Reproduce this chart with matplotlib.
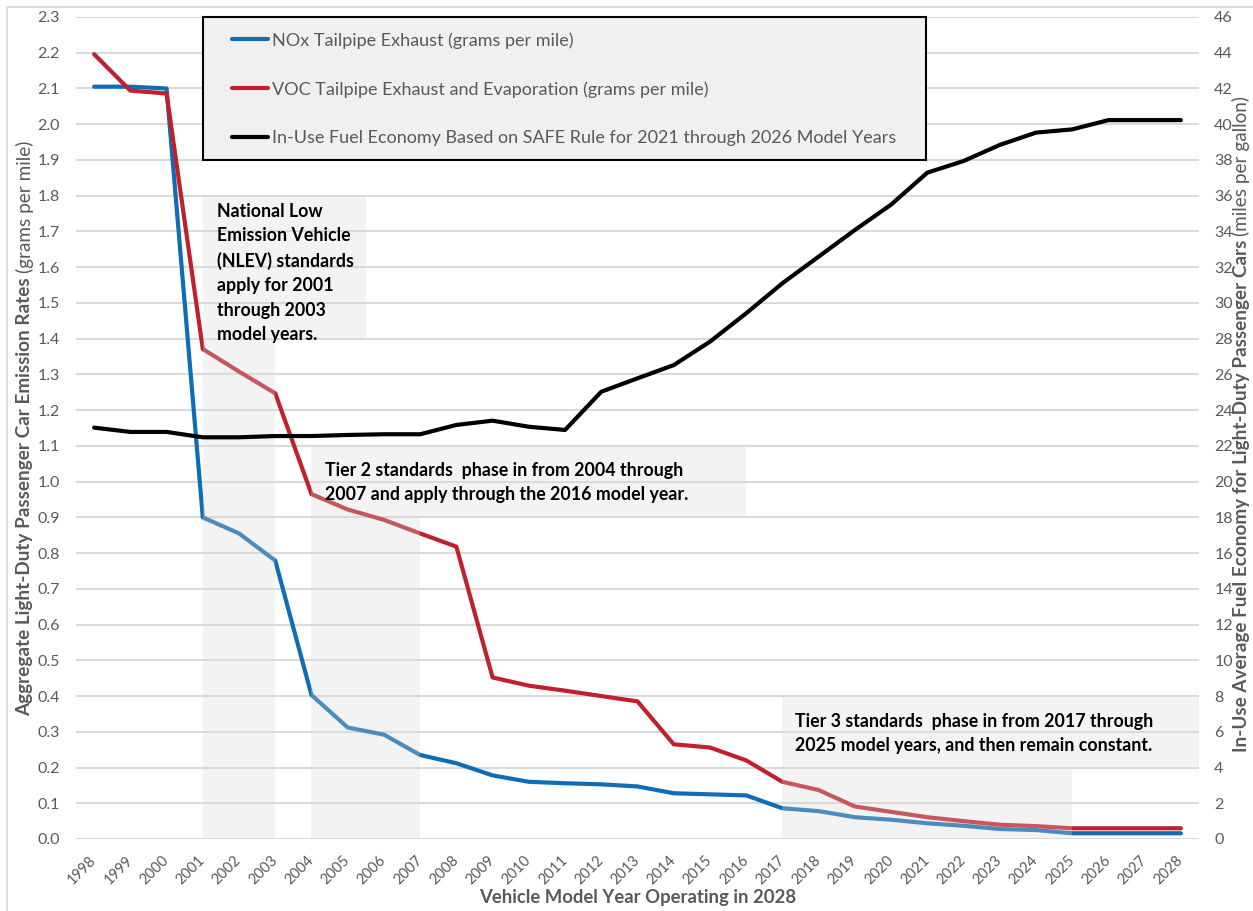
import matplotlib
matplotlib.use("Agg")
import matplotlib.pyplot as plt
from matplotlib.patches import Rectangle
from matplotlib.lines import Line2D

plt.rcParams['font.family'] = ['Lato', 'DejaVu Sans']

# ---------------- data ----------------
years = list(range(1998, 2029))
year_labels = [str(y) for y in years]

nox = [2.105, 2.105, 2.100, 0.900, 0.855, 0.779, 0.403, 0.312, 0.292, 0.235,
       0.212, 0.178, 0.160, 0.156, 0.153, 0.147, 0.128, 0.125, 0.122, 0.086,
       0.078, 0.061, 0.054, 0.044, 0.037, 0.028, 0.025, 0.016, 0.016, 0.016, 0.016]

voc = [2.196, 2.094, 2.086, 1.371, 1.308, 1.247, 0.965, 0.922, 0.893, 0.855,
       0.818, 0.452, 0.429, 0.415, 0.400, 0.385, 0.265, 0.256, 0.220, 0.160,
       0.137, 0.091, 0.076, 0.061, 0.050, 0.040, 0.036, 0.030, 0.030, 0.030, 0.030]

mpg = [23.02, 22.78, 22.78, 22.48, 22.48, 22.55, 22.55, 22.61, 22.65, 22.65,
       23.17, 23.41, 23.07, 22.89, 25.03, 25.78, 26.52, 27.83, 29.42, 31.10,
       32.59, 34.08, 35.50, 37.29, 37.94, 38.84, 39.53, 39.71, 40.23, 40.23, 40.23]

series_labels = ["NOx Tailpipe Exhaust (grams per mile)",
                 "VOC Tailpipe Exhaust and Evaporation (grams per mile)",
                 "In-Use Fuel Economy Based on SAFE Rule for 2021 through 2026 Model Years"]

left_ticks = [round(0.1 * i, 1) for i in range(24)]
right_ticks = list(range(0, 47, 2))

# standards periods (first year, last year)
nlev = (2001, 2003)
tier2 = (2004, 2007)
tier3 = (2017, 2025)

nlev_text = "National Low\nEmission Vehicle\n(NLEV) standards\napply for 2001\nthrough 2003\nmodel years."
tier2_text = "Tier 2 standards  phase in from 2004 through\n2007 and apply through the 2016 model year."
tier3_text = "Tier 3 standards  phase in from 2017 through\n2025 model years, and then remain constant."

# ---------------- style ----------------
W, H = 1253, 911
BLUE = '#0f6cb6'
RED = '#c0202b'
GRAY_TXT = '#595959'
GRID = '#d9d9d9'
SHADE = '#d9d9d9'
SHADE_ALPHA = 0.3

fig = plt.figure(figsize=(W / 100, H / 100), dpi=100)
ax = fig.add_axes([76 / W, 1 - 839 / H, (1199 - 76) / W, (839 - 17) / H])
ax.set_xlim(1997.5, 2028.5)
ax.set_ylim(0, 2.3)
ax2 = ax.twinx()
ax2.set_ylim(0, 46)

for a in (ax, ax2):
    for s in a.spines.values():
        s.set_visible(False)

ax.set_yticks(left_ticks)
ax.set_yticklabels([f"{t:.1f}" for t in left_ticks])
ax2.set_yticks(right_ticks)
ax2.set_yticklabels([str(t) for t in right_ticks])
ax.set_xticks(years)
ax.set_xticklabels(year_labels, rotation=45, ha='right', va='center',
                   rotation_mode='anchor')
ax.tick_params(axis='x', length=0, pad=14, labelsize=10.5, labelcolor=GRAY_TXT)
ax.tick_params(axis='y', length=0, pad=11.5, labelsize=11.5, labelcolor=GRAY_TXT)
ax2.tick_params(axis='y', length=0, pad=11, labelsize=11.5, labelcolor=GRAY_TXT)

ax.set_axisbelow(True)
ax.yaxis.grid(True, color=GRID, lw=1.4)
ax.xaxis.grid(False)

# lines
l1, = ax.plot(years, nox, color=BLUE, lw=3, zorder=2, solid_capstyle='round')
l2, = ax.plot(years, voc, color=RED, lw=3, zorder=2, solid_capstyle='round')
l3, = ax2.plot(years, mpg, color='black', lw=3, zorder=2, solid_capstyle='round')

# shaded bands + text boxes (overlay, semi-transparent)
def shade(x0, y0, x1, y1):
    ax.add_patch(Rectangle((x0, y0), x1 - x0, y1 - y0, facecolor=SHADE,
                           alpha=SHADE_ALPHA, edgecolor='none', zorder=3))

shade(nlev[0], 0, nlev[1], 1.4)
shade(nlev[0], 1.4, 2005.5, 1.8)
shade(tier2[0], 0, tier2[1], 0.9)
shade(tier2[0], 0.9, 2016.0, 1.1)
shade(tier3[0], 0, tier3[1], 0.2)
shade(tier3[0], 0.2, 2028.5, 0.4)

tkw = dict(fontsize=12.8, fontweight='bold', color='black', ha='left',
           va='top', linespacing=1.52, zorder=6)
ax.text(2001.38, 1.78, nlev_text, **tkw)
ax.text(2004.38, 1.055, tier2_text, **tkw)
ax.text(2017.35, 0.3525, tier3_text, **tkw)

# legend box
fig.patches.append(Rectangle((203 / W, 1 - 160 / H), (926 - 203) / W, (160 - 17) / H,
                             transform=fig.transFigure, facecolor='#f0f0f0',
                             edgecolor='black', lw=1.5, zorder=5))
leg = fig.legend([l1, l2, l3], series_labels, loc='upper left',
                 bbox_to_anchor=(232 / W, 1 - 32 / H), frameon=False,
                 fontsize=13, handlelength=2.0, handletextpad=0.22,
                 labelspacing=1.80, borderaxespad=0, borderpad=0)
for t in leg.get_texts():
    t.set_color(GRAY_TXT)
leg.set_zorder(7)

# axis labels (mixed bold / normal)
fig.canvas.draw()
r = fig.canvas.get_renderer()
LAB_FS = 13.6

def text_len(s, weight):
    t = fig.text(0, 0, s, fontsize=LAB_FS, fontweight=weight)
    w = t.get_window_extent(r).width
    t.remove()
    return w

def mixed_vlabel(xpx, center_from_top, bold, normal):
    lb = text_len(bold, 'bold')
    ln = text_len(normal, 'normal')
    c = H - center_from_top
    anchor = c + (lb - ln) / 2.0
    fig.text(xpx / W, anchor / H, bold, fontsize=LAB_FS, fontweight='bold',
             color=GRAY_TXT, rotation=90, rotation_mode='anchor',
             ha='right', va='center')
    fig.text(xpx / W, anchor / H, normal, fontsize=LAB_FS, fontweight='normal',
             color=GRAY_TXT, rotation=90, rotation_mode='anchor',
             ha='left', va='center')

mixed_vlabel(25, 428, "Aggregate Light-Duty Passenger Car Emission Rates ",
             "(grams per mile)")
mixed_vlabel(1241, 424, "In-Use Average Fuel Economy for Light-Duty Passenger Cars ",
             "(miles per gallon)")

fig.text(637.5 / W, 1 - 898 / H, "Vehicle Model Year Operating in 2028",
         fontsize=13.3, fontweight='bold', color=GRAY_TXT, ha='center', va='center')

# outer chart border (left and top visible)
fig.add_artist(Line2D([7 / W, 7 / W], [0, 1 - 7 / H], transform=fig.transFigure,
                      color=GRID, lw=1.3))
fig.add_artist(Line2D([7 / W, 1], [1 - 7 / H, 1 - 7 / H], transform=fig.transFigure,
                      color=GRID, lw=1.3))

fig.savefig('out.png', dpi=100)
